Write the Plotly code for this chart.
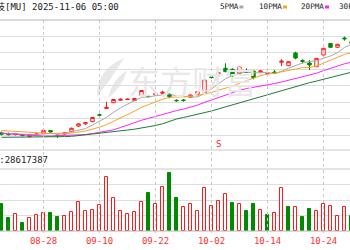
import plotly.graph_objects as go
import numpy as np

# ---------------- data ----------------
dates = ["08-20", "08-21", "08-22", "08-25", "08-26", "08-27", "08-28", "08-29",
         "09-02", "09-03", "09-04", "09-05", "09-08", "09-09", "09-10", "09-11", "09-12",
         "09-15", "09-16", "09-17", "09-18", "09-19", "09-22", "09-23", "09-24", "09-25", "09-26",
         "09-29", "09-30", "10-01", "10-02", "10-03", "10-06", "10-07", "10-08", "10-09", "10-10",
         "10-13", "10-14", "10-15", "10-16", "10-17", "10-20", "10-21", "10-22", "10-23", "10-24",
         "10-27", "10-28", "10-29", "10-30"]

tick_labels = ["08-28", "09-10", "09-22", "10-02", "10-14", "10-24"]

prev_close = 112.4

open_ = [112.76, 110.84, 110.6, 110.6, 107.96, 110.24, 112.04, 115.4, 110.0, 111.2,
         113.96, 120.8, 123.44, 125.96, 134.24, 141.8, 148.76, 151.64, 152.6, 151.4,
         157.4, 156.44, 158.24, 160.04, 158.84, 151.64, 152.0, 155.24, 158.84, 160.76,
         179.6, 181.16, 190.04, 188.84, 184.04, 186.2, 186.8, 185.84, 183.32, 185.6,
         197.24, 193.16, 208.4, 199.4, 196.4, 191.96, 206.0, 219.8, 215.24, 226.4, 221.96]
high = [114.2, 113.0, 112.04, 111.2, 110.6, 111.8, 116.6, 116.0, 110.24, 113.0,
        119.0, 123.8, 125.24, 131.6, 135.8, 149.96, 153.2, 154.04, 153.44, 154.4,
        164.0, 156.8, 161.24, 163.16, 160.04, 152.84, 153.2, 158.6, 162.44, 176.6,
        180.8, 185.24, 196.04, 190.04, 191.96, 190.04, 188.0, 188.0, 184.04, 188.0,
        200.84, 198.44, 209.96, 200.84, 200.0, 202.4, 214.4, 220.04, 219.2, 227.96, 222.44]
low = [109.4, 109.4, 109.4, 108.2, 107.6, 109.64, 111.2, 113.0, 106.4, 110.6,
       113.6, 119.6, 122.0, 125.6, 132.2, 141.44, 148.4, 151.4, 152.24, 150.8,
       156.8, 155.6, 157.16, 159.2, 154.04, 149.96, 149.96, 155.0, 158.6, 160.4,
       177.8, 180.8, 185.6, 179.96, 183.8, 184.76, 176.84, 184.76, 182.84, 184.04,
       192.8, 192.8, 200.84, 196.04, 188.0, 191.6, 205.64, 215.0, 215.0, 223.16, 219.2]
close = [110.84, 110.48, 111.8, 109.4, 110.0, 111.2, 115.64, 113.6, 109.28, 112.4,
         118.04, 123.44, 125.0, 131.0, 133.76, 143.24, 152.6, 152.84, 153.08, 153.8,
         163.4, 155.96, 159.8, 161.24, 155.96, 151.16, 151.52, 158.0, 161.96, 176.0,
         179.0, 184.76, 185.96, 181.16, 191.6, 185.0, 179.0, 186.8, 183.68, 184.16,
         198.8, 197.96, 202.4, 198.44, 194.0, 202.04, 214.04, 215.24, 218.84, 225.44, 220.04]

volume_m = [25.8, 12.6, 16.7, 8.0, 12.6, 15.2, 17.1, 17.1, 13.5, 14.2,
            18.7, 28.1, 19.4, 20.3, 25.5, 52.0, 31.6, 19.4, 16.7, 18.4,
            28.1, 37.1, 25.8, 42.9, 56.4, 31.6, 23.5, 26.4, 19.4, 41.3,
            24.5, 29.0, 35.8, 27.4, 26.1, 19.4, 26.4, 20.3, 15.8, 17.7,
            41.3, 22.9, 22.9, 13.5, 21.3, 19.4, 25.8, 23.9, 14.8, 23.2, 14.2]

ma5 = [112.4, 111.8, 111.2, 110.72, 110.48, 110.6, 111.56, 111.92, 111.92, 112.4,
       113.84, 115.4, 117.68, 122.0, 126.2, 131.24, 137.12, 142.64, 147.08, 151.16,
       155.12, 155.84, 157.16, 158.84, 159.32, 156.8, 155.96, 155.6, 155.72, 159.68,
       165.32, 171.92, 177.56, 181.4, 184.52, 185.72, 184.52, 184.76, 185.24, 183.68,
       186.44, 190.28, 193.4, 196.4, 198.32, 198.92, 202.16, 204.8, 208.88, 215.12, 218.72]
ma10 = [115.4, 114.8, 114.2, 113.6, 112.88, 112.28, 111.92, 111.56, 111.2, 111.44,
        112.16, 113.48, 114.8, 116.96, 119.36, 122.48, 126.2, 130.16, 134.48, 138.68,
        143.24, 146.48, 149.96, 152.96, 155.24, 155.96, 155.84, 156.44, 157.28, 159.44,
        161.0, 163.88, 166.52, 168.56, 172.16, 175.52, 178.28, 181.16, 183.32, 184.16,
        186.08, 187.4, 189.08, 190.76, 191.0, 192.68, 196.28, 199.04, 202.64, 206.72, 208.88]
ma20 = [111.8, 111.2, 110.6, 110.0, 109.4, 109.04, 108.8, 108.8, 109.04, 109.28,
        109.4, 109.76, 110.6, 111.8, 113.0, 114.44, 116.24, 119.0, 122.0, 125.12,
        127.7, 129.92, 132.32, 134.96, 137.24, 139.28, 141.08, 143.24, 145.88, 149.12,
        152.12, 155.24, 158.24, 160.76, 163.64, 165.74, 167.06, 168.8, 170.24, 171.8,
        173.6, 175.64, 177.8, 179.72, 181.52, 184.16, 187.28, 190.1, 192.92, 195.44, 197.48]
ma30 = [107.24, 107.24, 107.24, 107.24, 107.24, 107.36, 107.48, 107.6, 107.84, 108.08,
        108.44, 109.04, 110.24, 111.2, 112.04, 112.64, 113.6, 114.8, 116.0, 116.96,
        118.16, 119.6, 121.4, 123.44, 126.2, 129.2, 131.0, 132.8, 134.6, 136.52,
        138.82, 141.32, 143.72, 146.12, 148.88, 151.34, 153.44, 155.84, 158.36, 160.76,
        163.46, 165.92, 168.56, 170.72, 172.76, 174.74, 176.78, 178.88, 181.04, 183.44, 185.36]

ma_names = ["5PMA", "10PMA", "20PMA", "30PMA"]
ma_colors = ["#a8a8a8", "#f5a623", "#ff22ff", "#1e7a3c"]

title_text = "美光科技[MU] 2025-11-06 05:00"
vol_text = "VOL:28617387"
event_date = "10-03"
event_label = "S"

# ---------------- figure ----------------
W, H = 350, 250
MT, MB = 20, 19
PH = H - MT - MB
UP, DOWN = "#ff1a1a", "#008a00"
MONO = "DejaVu Sans Mono, Noto Sans CJK SC"

def py(ypix):
    return (H - MB - ypix) / PH

def px(xpix):
    return xpix / W

n = len(dates)
idx = list(range(n))
volume = [v * 1e6 for v in volume_m]
prevs = [prev_close] + close[:-1]
vol_up = [c >= p for c, p in zip(close, prevs)]

fig = go.Figure()
fig.add_trace(go.Candlestick(
    x=idx, open=open_, high=high, low=low, close=close,
    increasing=dict(line=dict(color=UP, width=1), fillcolor="#ffffff"),
    decreasing=dict(line=dict(color=DOWN, width=1), fillcolor=DOWN),
    whiskerwidth=0, xaxis="x", yaxis="y", showlegend=False, hoverinfo="skip"))

for vals, name, col in zip([ma5, ma10, ma20, ma30], ma_names, ma_colors):
    fig.add_trace(go.Scatter(x=idx, y=vals, mode="lines", name=name,
                             line=dict(color=col, width=1), xaxis="x", yaxis="y",
                             showlegend=False, hoverinfo="skip"))

fig.add_trace(go.Bar(
    x=idx, y=volume, width=0.55,
    marker=dict(color=["#ffffff" if u else DOWN for u in vol_up],
                line=dict(color=[UP if u else DOWN for u in vol_up], width=1)),
    xaxis="x", yaxis="y2", showlegend=False, hoverinfo="skip"))

p_lo, p_hi = 110.0, 248.0          # gridline prices (bottom / top line)
pix_per = (135 - 20) / (p_hi - p_lo)
y_bottom = p_lo - (150 - 135) / pix_per

fig.update_layout(
    width=W, height=H, margin=dict(l=0, r=0, t=MT, b=MB),
    paper_bgcolor="white", plot_bgcolor="white",
    bargap=0,
    xaxis=dict(range=[-1.5 / 7, -1.5 / 7 + W / 7], anchor="y2",
               tickmode="array", tickvals=[dates.index(d) for d in tick_labels],
               ticktext=tick_labels, ticks="", ticklabelstandoff=3,
               showgrid=False, zeroline=False,
               showline=False, rangeslider=dict(visible=False),
               tickfont=dict(family=MONO, size=9, color="#ff3030")),
    yaxis=dict(domain=[py(150), 1.0], range=[y_bottom, p_hi],
               tickmode="array", tickvals=list(np.linspace(p_lo, p_hi, 8)),
               showticklabels=False, showgrid=True, gridcolor="#dedede", gridwidth=1,
               zeroline=False, showline=False),
    yaxis2=dict(domain=[0, py(169)], range=[0, 60e6],
                tickmode="array", tickvals=[15e6, 30e6, 45e6],
                showticklabels=False, showgrid=True, gridcolor="#dedede", gridwidth=1,
                zeroline=False, showline=False),
)

shapes = []
# watermark flame (decorative, light grey)
shapes.append(dict(type="path", xref="paper", yref="paper", layer="below",
                   path=("M {a},{b} Q {c},{d} {e},{f} Q {g},{h} {a},{b} Z").format(
                       a=px(97), b=py(97), c=px(96), d=py(70), e=px(124), f=py(58),
                       g=px(112), h=py(78)),
                   line=dict(width=0), fillcolor="#e8e8e8"))
shapes.append(dict(type="path", xref="paper", yref="paper", layer="below",
                   path=("M {a},{b} Q {c},{d} {e},{f} Q {g},{h} {a},{b} Z").format(
                       a=px(108), b=py(98), c=px(112), d=py(80), e=px(127), f=py(70),
                       g=px(122), h=py(88)),
                   line=dict(width=0), fillcolor="#e8e8e8"))
# dashed vertical gridlines
for d in tick_labels:
    shapes.append(dict(type="line", xref="x", yref="paper", x0=dates.index(d), x1=dates.index(d),
                       y0=py(233), y1=1.0, line=dict(color="#c8c8c8", width=1, dash="3px,3px")))
# horizontal borders
for ypix, col in [(20, "#b4b4b4"), (150, "#c8c8c8"), (169, "#c8c8c8"), (231, "#b4b4b4")]:
    shapes.append(dict(type="line", xref="paper", yref="paper", x0=0, x1=1,
                       y0=py(ypix), y1=py(ypix), line=dict(color=col, width=1)))

ann = []
# watermark
ann.append(dict(text="东方财富", xref="paper", yref="paper", x=px(192), y=py(80),
                xanchor="center", yanchor="middle", showarrow=False,
                font=dict(family="Noto Sans CJK SC", size=32, color="#e8e8e8")))
# title
ann.append(dict(text=title_text, xref="paper", yref="paper", x=px(121), y=py(7),
                xanchor="right", yanchor="middle", showarrow=False,
                font=dict(family=MONO, size=9, color="#222222")))
# legend: text start and colour-key position for each entry
legend_x = [219, 258, 300, 338]
for name, col, lx in zip(ma_names, ma_colors, legend_x):
    ann.append(dict(text=name, xref="paper", yref="paper", x=px(lx - 1), y=py(7),
                    xanchor="left", yanchor="middle", showarrow=False,
                    font=dict(family=MONO, size=7.6, color="#222222")))
    kx = lx + len(name) * 4.6 + 2
    shapes.append(dict(type="rect", xref="paper", yref="paper",
                       x0=px(kx), x1=px(kx + 4), y0=py(8.5), y1=py(5.5),
                       line=dict(width=0), fillcolor=col))
fig.update_layout(shapes=shapes)
# volume label
ann.append(dict(text=vol_text, xref="paper", yref="paper", x=px(-19.5), y=py(160),
                xanchor="left", yanchor="middle", showarrow=False,
                font=dict(family=MONO, size=9, color="#222222")))
# event marker
ann.append(dict(text=event_label, xref="x", yref="paper", x=dates.index(event_date), y=py(144),
                xanchor="center", yanchor="middle", showarrow=False,
                font=dict(family=MONO, size=9, color="#ff2020")))
fig.update_layout(annotations=ann)

fig.write_html("out.html")
